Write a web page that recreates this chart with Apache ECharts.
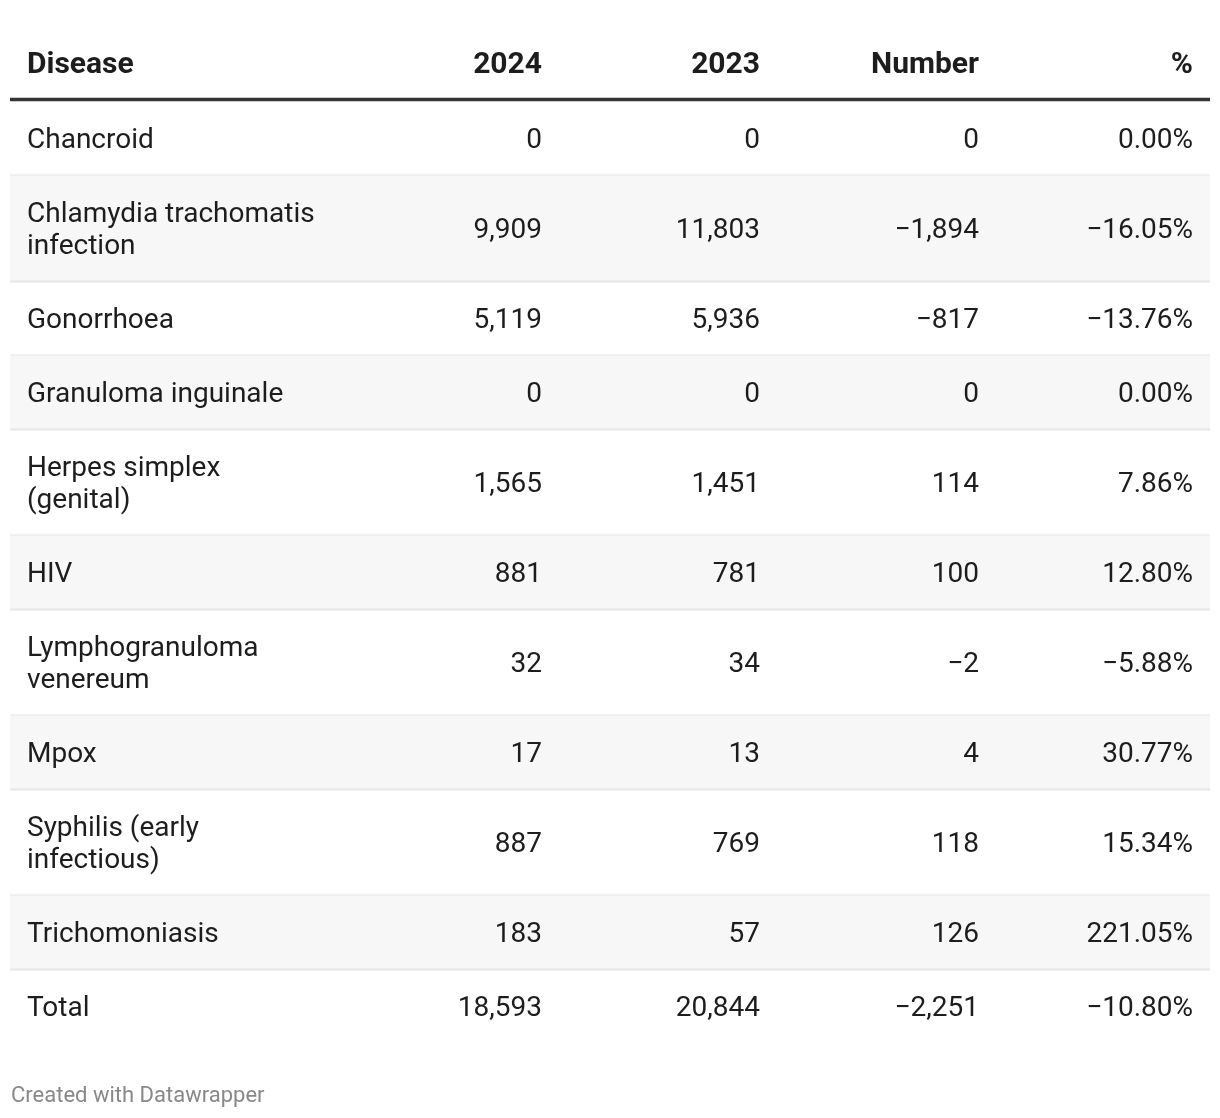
<!DOCTYPE html>
<html>
<head>
<meta charset="utf-8">
<script src="https://cdn.jsdelivr.net/npm/echarts@6/dist/echarts.min.js"></script>
<style>
  html, body { margin: 0; padding: 0; background: #ffffff; }
  #chart { width: 1220px; height: 1118px; }
</style>
</head>
<body>
<div id="chart"></div>
<script>
// ---------- DATA ----------
const columnHeaders = ['Disease', '2024', '2023', 'Number', '%'];
const diseases = [
  'Chancroid',
  'Chlamydia trachomatis\ninfection',
  'Gonorrhoea',
  'Granuloma inguinale',
  'Herpes simplex\n(genital)',
  'HIV',
  'Lymphogranuloma\nvenereum',
  'Mpox',
  'Syphilis (early\ninfectious)',
  'Trichomoniasis',
  'Total'
];
const cases2024 = [0, 9909, 5119, 0, 1565, 881, 32, 17, 887, 183, 18593];
const cases2023 = [0, 11803, 5936, 0, 1451, 781, 34, 13, 769, 57, 20844];
const changeNumber = [0, -1894, -817, 0, 114, 100, -2, 4, 118, 126, -2251];
const changePercent = [0.00, -16.05, -13.76, 0.00, 7.86, 12.80, -5.88, 30.77, 15.34, 221.05, -10.80];
const footerText = 'Created with Datawrapper';

// ---------- LAYOUT / STYLE ----------
const W = 1220, H = 1118;
const tableLeft = 10, tableRight = 1210;
const headerCenterY = 65;
const headerLineY = 99.5, headerLineW = 3.5;
const firstRowTop = 101.5;
const rowPad = 42, lineH = 32;
const textOffsetY = 2;
const textLeft = 27;
const colRight = [null, 542, 760, 979, 1193];
const fontFamily = 'Roboto, "Noto Sans", sans-serif';
const bodySize = 28, headSize = 30;
const textColor = '#1d1d1d';
const stripe = '#f7f7f7';
const sepColor = '#e6e6e6';

function fmtInt(v) {
  const s = Math.abs(v).toLocaleString('en-US');
  return (v < 0 ? '\u2212' : '') + s;
}
function fmtPct(v) {
  const s = Math.abs(v).toFixed(2) + '%';
  return (v < 0 ? '\u2212' : '') + s;
}

// row geometry derived from number of text lines
const rowTops = [];
const rowBottoms = [];
let cursor = firstRowTop;
diseases.forEach(function (d) {
  const lines = d.split('\n').length;
  rowTops.push(cursor);
  cursor += rowPad + lineH * lines;
  rowBottoms.push(cursor);
});

const rowData = diseases.map(function (d, i) {
  return [i, cases2024[i], cases2023[i], changeNumber[i], changePercent[i]];
});

function txt(text, x, y, align, weight, size, color) {
  return {
    type: 'text',
    silent: true,
    style: {
      text: text, x: x, y: y,
      align: align, verticalAlign: 'middle',
      fontFamily: fontFamily, fontSize: size, fontWeight: weight,
      lineHeight: lineH, fill: color
    }
  };
}

const chart = echarts.init(document.getElementById('chart'), null, { renderer: 'canvas' });
chart.setOption({
  backgroundColor: '#ffffff',
  animation: false,
  grid: { left: 0, right: 0, top: 0, bottom: 0 },
  xAxis: { type: 'value', min: 0, max: W, show: false },
  yAxis: { type: 'value', min: 0, max: H, inverse: true, show: false },
  series: [
    {
      type: 'custom',
      silent: true,
      data: [[0]],
      renderItem: function (params, api) {
        const children = [];
        const yc = api.coord([0, headerCenterY])[1];
        children.push(txt(columnHeaders[0], api.coord([textLeft, 0])[0], yc, 'left', 'bold', headSize, textColor));
        for (let c = 1; c < columnHeaders.length; c++) {
          children.push(txt(columnHeaders[c], api.coord([colRight[c], 0])[0], yc, 'right', 'bold', headSize, textColor));
        }
        const p1 = api.coord([tableLeft, headerLineY]);
        const p2 = api.coord([tableRight, headerLineY]);
        children.push({
          type: 'line', silent: true,
          shape: { x1: p1[0], y1: p1[1], x2: p2[0], y2: p2[1] },
          style: { stroke: '#333333', lineWidth: headerLineW }
        });
        return { type: 'group', children: children };
      }
    },
    {
      type: 'custom',
      silent: true,
      data: rowData,
      renderItem: function (params, api) {
        const i = api.value(0);
        const top = rowTops[i], bottom = rowBottoms[i];
        const tl = api.coord([tableLeft, top]);
        const br = api.coord([tableRight, bottom]);
        const yc = (tl[1] + br[1]) / 2 + textOffsetY;
        const children = [];
        const isLast = i === diseases.length - 1;
        if (i % 2 === 1 && !isLast) {
          children.push({
            type: 'rect', silent: true,
            shape: { x: tl[0], y: tl[1], width: br[0] - tl[0], height: br[1] - tl[1] },
            style: { fill: stripe }
          });
        }
        if (!isLast) {
          children.push({
            type: 'line', silent: true,
            shape: { x1: tl[0], y1: br[1], x2: br[0], y2: br[1] },
            style: { stroke: sepColor, lineWidth: 2 }
          });
        }
        children.push(txt(diseases[i], api.coord([textLeft, 0])[0], yc, 'left', 'normal', bodySize, textColor));
        const vals = [fmtInt(api.value(1)), fmtInt(api.value(2)), fmtInt(api.value(3)), fmtPct(api.value(4))];
        for (let c = 1; c < 5; c++) {
          children.push(txt(vals[c - 1], api.coord([colRight[c], 0])[0], yc, 'right', 'normal', bodySize, textColor));
        }
        return { type: 'group', children: children };
      }
    }
  ],
  graphic: [
    {
      type: 'text', left: 11, top: 1085, silent: true,
      style: { text: footerText, fontFamily: fontFamily, fontSize: 22, fill: '#888888' }
    }
  ]
});
</script>
</body>
</html>
